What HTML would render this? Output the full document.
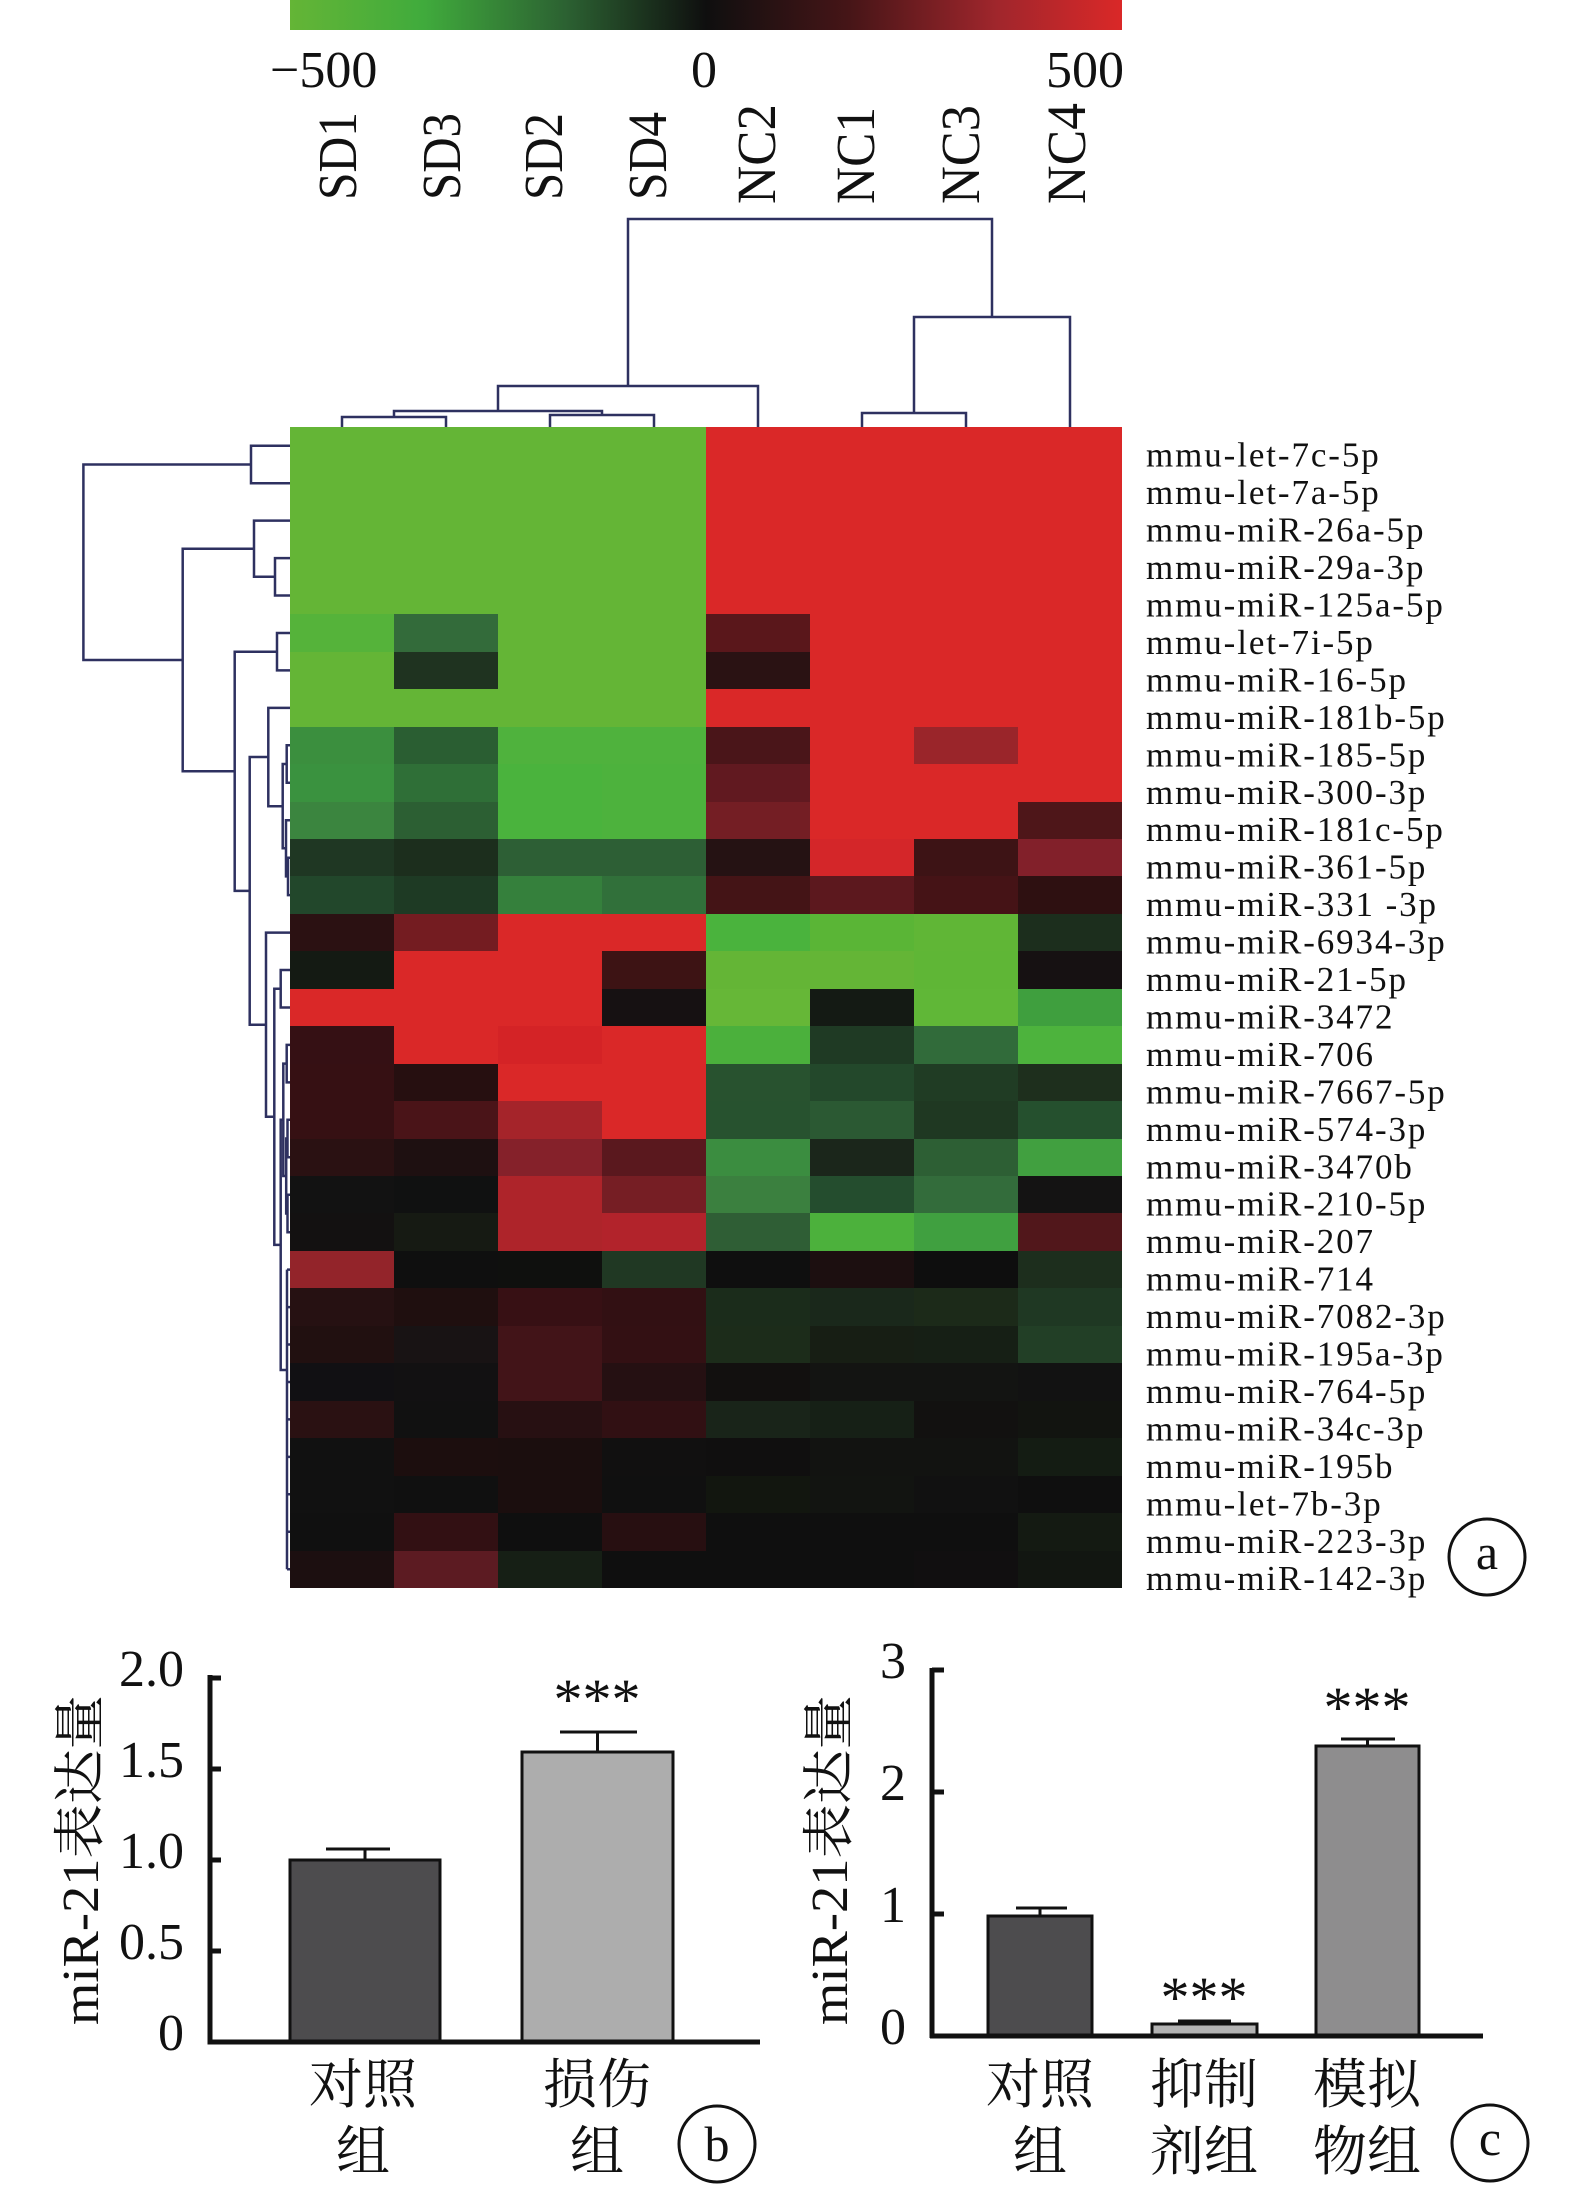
<!DOCTYPE html>
<html><head><meta charset="utf-8">
<style>
html,body{margin:0;padding:0;background:#fff}
body{width:1575px;height:2187px;overflow:hidden;position:relative}
#hm{position:absolute;left:290px;top:427px;width:832px;height:1161px;display:grid;grid-template-columns:repeat(8,104px);grid-template-rows:repeat(31,1fr)}
#hm i{display:block}
#hm .g{background:#64b536}
#hm .r{background:#da2828}
svg{position:absolute;left:0;top:0}
</style></head>
<body>
<div id="hm">
<i class="g"></i><i class="g"></i><i class="g"></i><i class="g"></i><i class="r"></i><i class="r"></i><i class="r"></i><i class="r"></i>
<i class="g"></i><i class="g"></i><i class="g"></i><i class="g"></i><i class="r"></i><i class="r"></i><i class="r"></i><i class="r"></i>
<i class="g"></i><i class="g"></i><i class="g"></i><i class="g"></i><i class="r"></i><i class="r"></i><i class="r"></i><i class="r"></i>
<i class="g"></i><i class="g"></i><i class="g"></i><i class="g"></i><i class="r"></i><i class="r"></i><i class="r"></i><i class="r"></i>
<i class="g"></i><i class="g"></i><i class="g"></i><i class="g"></i><i class="r"></i><i class="r"></i><i class="r"></i><i class="r"></i>
<i style="background:#55b33a"></i><i style="background:#336b3a"></i><i class="g"></i><i class="g"></i><i style="background:#5a171b"></i><i class="r"></i><i class="r"></i><i class="r"></i>
<i class="g"></i><i style="background:#1f3320"></i><i class="g"></i><i class="g"></i><i style="background:#2a1213"></i><i class="r"></i><i class="r"></i><i class="r"></i>
<i class="g"></i><i class="g"></i><i class="g"></i><i class="g"></i><i class="r"></i><i class="r"></i><i class="r"></i><i class="r"></i>
<i style="background:#3b8f3e"></i><i style="background:#2a5e32"></i><i style="background:#4fb23d"></i><i style="background:#4fb23d"></i><i style="background:#4a1519"></i><i class="r"></i><i style="background:#9a252a"></i><i class="r"></i>
<i style="background:#3a923f"></i><i style="background:#2f6f37"></i><i style="background:#4ab33d"></i><i style="background:#4db23d"></i><i style="background:#611920"></i><i class="r"></i><i class="r"></i><i class="r"></i>
<i style="background:#3b853f"></i><i style="background:#2c5f33"></i><i style="background:#4ab33d"></i><i style="background:#4db23d"></i><i style="background:#741e24"></i><i class="r"></i><i class="r"></i><i style="background:#4e1619"></i>
<i style="background:#1f3723"></i><i style="background:#1c2e1d"></i><i style="background:#2d5f35"></i><i style="background:#2d5f35"></i><i style="background:#251213"></i><i style="background:#d42629"></i><i style="background:#3d1315"></i><i style="background:#82202a"></i>
<i style="background:#22472b"></i><i style="background:#1e3a24"></i><i style="background:#35803c"></i><i style="background:#31703a"></i><i style="background:#441416"></i><i style="background:#5c181e"></i><i style="background:#451316"></i><i style="background:#2e1011"></i>
<i style="background:#2b1112"></i><i style="background:#741c21"></i><i class="r"></i><i class="r"></i><i style="background:#4ab33d"></i><i style="background:#5ab536"></i><i style="background:#60b636"></i><i style="background:#1c2e1d"></i>
<i style="background:#141a13"></i><i class="r"></i><i class="r"></i><i style="background:#3d1314"></i><i class="g"></i><i class="g"></i><i style="background:#5fb636"></i><i style="background:#161112"></i>
<i class="r"></i><i class="r"></i><i class="r"></i><i style="background:#161112"></i><i style="background:#66b737"></i><i style="background:#141a14"></i><i style="background:#60b737"></i><i style="background:#3f9f3e"></i>
<i style="background:#351014"></i><i class="r"></i><i style="background:#d42326"></i><i class="r"></i><i style="background:#4bb03c"></i><i style="background:#1f3a24"></i><i style="background:#316b3a"></i><i style="background:#4db33d"></i>
<i style="background:#361013"></i><i style="background:#260f10"></i><i class="r"></i><i class="r"></i><i style="background:#28522f"></i><i style="background:#23482b"></i><i style="background:#203c24"></i><i style="background:#1e2f1d"></i>
<i style="background:#361013"></i><i style="background:#4a1418"></i><i style="background:#a5242a"></i><i class="r"></i><i style="background:#27522f"></i><i style="background:#2b5933"></i><i style="background:#1f3822"></i><i style="background:#25502e"></i>
<i style="background:#2a1112"></i><i style="background:#1e1011"></i><i style="background:#85212a"></i><i style="background:#5a181e"></i><i style="background:#3b8d40"></i><i style="background:#1b261b"></i><i style="background:#2d5f34"></i><i style="background:#41a040"></i>
<i style="background:#121212"></i><i style="background:#101111"></i><i style="background:#ae242a"></i><i style="background:#761e24"></i><i style="background:#3b803f"></i><i style="background:#244d2e"></i><i style="background:#336c3b"></i><i style="background:#141313"></i>
<i style="background:#131111"></i><i style="background:#161a13"></i><i style="background:#ae242a"></i><i style="background:#b2232b"></i><i style="background:#2f5e35"></i><i style="background:#4cb13c"></i><i style="background:#40a040"></i><i style="background:#51171b"></i>
<i style="background:#93242a"></i><i style="background:#0f0f0f"></i><i style="background:#0f100e"></i><i style="background:#203823"></i><i style="background:#0f0f0f"></i><i style="background:#1c0f10"></i><i style="background:#0e0e0e"></i><i style="background:#1d2e1d"></i>
<i style="background:#261112"></i><i style="background:#1f0f0f"></i><i style="background:#371014"></i><i style="background:#321013"></i><i style="background:#1b2c1b"></i><i style="background:#1a281b"></i><i style="background:#1c2a19"></i><i style="background:#1f3823"></i>
<i style="background:#211010"></i><i style="background:#181314"></i><i style="background:#421418"></i><i style="background:#331013"></i><i style="background:#1c2c1a"></i><i style="background:#171e14"></i><i style="background:#161f15"></i><i style="background:#223f26"></i>
<i style="background:#111013"></i><i style="background:#121112"></i><i style="background:#421418"></i><i style="background:#251012"></i><i style="background:#12100f"></i><i style="background:#131412"></i><i style="background:#131412"></i><i style="background:#121212"></i>
<i style="background:#2a1112"></i><i style="background:#111111"></i><i style="background:#271012"></i><i style="background:#311013"></i><i style="background:#192419"></i><i style="background:#162016"></i><i style="background:#121110"></i><i style="background:#121410"></i>
<i style="background:#111111"></i><i style="background:#1c0e0e"></i><i style="background:#1b0e0e"></i><i style="background:#111010"></i><i style="background:#100f0f"></i><i style="background:#121311"></i><i style="background:#121311"></i><i style="background:#141c13"></i>
<i style="background:#111111"></i><i style="background:#101010"></i><i style="background:#1b0e0e"></i><i style="background:#101010"></i><i style="background:#12160f"></i><i style="background:#121411"></i><i style="background:#111111"></i><i style="background:#0f0f0f"></i>
<i style="background:#101010"></i><i style="background:#321013"></i><i style="background:#0f0f0f"></i><i style="background:#270f11"></i><i style="background:#0f0f0f"></i><i style="background:#0f0f0f"></i><i style="background:#0f0f0f"></i><i style="background:#141a12"></i>
<i style="background:#1c0f10"></i><i style="background:#5c1b22"></i><i style="background:#161f15"></i><i style="background:#0f0f0f"></i><i style="background:#0f0f0f"></i><i style="background:#0f0f0f"></i><i style="background:#110f10"></i><i style="background:#121611"></i>
</div>

<svg width="1575" height="2187" viewBox="0 0 1575 2187" xmlns="http://www.w3.org/2000/svg">
<defs>
<linearGradient id="cb" x1="0" y1="0" x2="1" y2="0">
<stop offset="0" stop-color="#64b536"/>
<stop offset="0.16" stop-color="#40ab3c"/>
<stop offset="0.33" stop-color="#2c6232"/>
<stop offset="0.5" stop-color="#0f0f0f"/>
<stop offset="0.67" stop-color="#451517"/>
<stop offset="0.85" stop-color="#a0262c"/>
<stop offset="1" stop-color="#da2828"/>
</linearGradient>
</defs>

<rect x="290" y="0" width="832" height="30" fill="url(#cb)"/>
<g font-family="'Liberation Serif', serif" font-size="52" fill="#111">
<text x="270" y="87">−500</text>
<text x="704" y="87" text-anchor="middle">0</text>
<text x="1124" y="87" text-anchor="end">500</text>
</g>

<g font-family="'Liberation Serif', serif" font-size="55" fill="#111">
<text transform="translate(356,200) rotate(-90)" textLength="88" lengthAdjust="spacingAndGlyphs">SD1</text>
<text transform="translate(460,200) rotate(-90)" textLength="87" lengthAdjust="spacingAndGlyphs">SD3</text>
<text transform="translate(562,200) rotate(-90)" textLength="87" lengthAdjust="spacingAndGlyphs">SD2</text>
<text transform="translate(666,200) rotate(-90)" textLength="88" lengthAdjust="spacingAndGlyphs">SD4</text>
<text transform="translate(775,204) rotate(-90)" textLength="100" lengthAdjust="spacingAndGlyphs">NC2</text>
<text transform="translate(874,204) rotate(-90)" textLength="97" lengthAdjust="spacingAndGlyphs">NC1</text>
<text transform="translate(979,204) rotate(-90)" textLength="99" lengthAdjust="spacingAndGlyphs">NC3</text>
<text transform="translate(1085,204) rotate(-90)" textLength="101" lengthAdjust="spacingAndGlyphs">NC4</text>
</g>

<g fill="none" stroke="#2e3160" stroke-width="2.5">
<path d="M342 427 V417 H446 V427"/>
<path d="M550 427 V415 H654 V427"/>
<path d="M394 417 V411 H602 V415"/>
<path d="M498 411 V386 H758 V427"/>
<path d="M862 427 V413 H966 V427"/>
<path d="M914 413 V317 H1070 V427"/>
<path d="M628 386 V219 H992 V317"/>
</g>

<g fill="none" stroke="#2e3160" stroke-width="2.5">
<path d="M290 445.7 H251 V483.2 H290"/>
<path d="M290 558.1 H275 V595.5 H290"/>
<path d="M290 520.6 H254 V576.8 H275"/>
<path d="M290 633 H277 V670.4 H290"/>
<path d="M290 745.3 H286.7 V782.8 H290"/>
<path d="M290 857.7 H288 V895.1 H290"/>
<path d="M290 820.2 H286 V876.4 H288"/>
<path d="M286.7 764.05 H282.7 V848.3 H286"/>
<path d="M290 707.9 H268.3 V806.2 H282.7"/>
<path d="M290 970 H280.7 V1007.5 H290"/>
<path d="M290 1044.9 H286.7 V1082.4 H290"/>
<path d="M290 1119.8 H287.5 V1157.3 H290"/>
<path d="M290 1194.7 H287.5 V1232.2 H290"/>
<path d="M287.5 1138.55 H286.2 V1213.45 H287.5"/>
<path d="M286.7 1063.65 H283.3 V1176 H286.2"/>
<path d="M287 1269.6 V1569.2"/>
<path d="M287 1269.6 H290 M287 1307.1 H290 M287 1344.5 H290 M287 1382 H290 M287 1419.4 H290 M287 1456.9 H290 M287 1494.3 H290 M287 1531.8 H290 M287 1569.2 H290"/>
<path d="M283.3 1119.8 H280.7 V1370 H287"/>
<path d="M280.7 988.75 H274.3 V1244.9 H280.7"/>
<path d="M290 932.6 H266 V1116.8 H274.3"/>
<path d="M268.3 757.05 H249.7 V1024.7 H266"/>
<path d="M277 651.7 H234.7 V890.9 H249.7"/>
<path d="M254 548.7 H182.7 V771.3 H234.7"/>
<path d="M251 464.45 H83.4 V660 H182.7"/>
</g>

<g font-family="'Liberation Serif', serif" font-size="35" letter-spacing="1.9" fill="#111" transform="translate(0,3)">
<text x="1146" y="463.7">mmu-let-7c-5p</text>
<text x="1146" y="501.2">mmu-let-7a-5p</text>
<text x="1146" y="538.6">mmu-miR-26a-5p</text>
<text x="1146" y="576.1">mmu-miR-29a-3p</text>
<text x="1146" y="613.5">mmu-miR-125a-5p</text>
<text x="1146" y="651">mmu-let-7i-5p</text>
<text x="1146" y="688.4">mmu-miR-16-5p</text>
<text x="1146" y="725.9">mmu-miR-181b-5p</text>
<text x="1146" y="763.3">mmu-miR-185-5p</text>
<text x="1146" y="800.8">mmu-miR-300-3p</text>
<text x="1146" y="838.2">mmu-miR-181c-5p</text>
<text x="1146" y="875.7">mmu-miR-361-5p</text>
<text x="1146" y="913.1">mmu-miR-331 -3p</text>
<text x="1146" y="950.6">mmu-miR-6934-3p</text>
<text x="1146" y="988">mmu-miR-21-5p</text>
<text x="1146" y="1025.5">mmu-miR-3472</text>
<text x="1146" y="1062.9">mmu-miR-706</text>
<text x="1146" y="1100.4">mmu-miR-7667-5p</text>
<text x="1146" y="1137.8">mmu-miR-574-3p</text>
<text x="1146" y="1175.3">mmu-miR-3470b</text>
<text x="1146" y="1212.7">mmu-miR-210-5p</text>
<text x="1146" y="1250.2">mmu-miR-207</text>
<text x="1146" y="1287.6">mmu-miR-714</text>
<text x="1146" y="1325.1">mmu-miR-7082-3p</text>
<text x="1146" y="1362.5">mmu-miR-195a-3p</text>
<text x="1146" y="1400">mmu-miR-764-5p</text>
<text x="1146" y="1437.4">mmu-miR-34c-3p</text>
<text x="1146" y="1474.9">mmu-miR-195b</text>
<text x="1146" y="1512.3">mmu-let-7b-3p</text>
<text x="1146" y="1549.8">mmu-miR-223-3p</text>
<text x="1146" y="1587.2">mmu-miR-142-3p</text>
</g>

<circle cx="1487" cy="1557" r="38" fill="none" stroke="#111" stroke-width="3"/>
<text x="1487" y="1569" text-anchor="middle" font-family="'Liberation Serif', serif" font-size="50" fill="#111">a</text>

<g font-family="'Liberation Serif', serif" font-size="52" fill="#111" text-anchor="end">
<text x="184" y="1686">2.0</text>
<text x="184" y="1777">1.5</text>
<text x="184" y="1868">1.0</text>
<text x="184" y="1959">0.5</text>
<text x="184" y="2050">0</text>
</g>
<text transform="translate(98,2025) rotate(-90)" font-family="'Liberation Serif','Noto Serif CJK SC',serif" font-size="52" fill="#111" textLength="330" lengthAdjust="spacingAndGlyphs">miR-21表达量</text>
<rect x="290" y="1860" width="150" height="182" fill="#4d4c4e" stroke="#111" stroke-width="3"/>
<rect x="522" y="1752" width="151" height="290" fill="#adadad" stroke="#111" stroke-width="3"/>
<g stroke="#111" stroke-width="3" fill="none">
<path d="M365 1860 V1849 M326 1849 H390"/>
<path d="M597.5 1752 V1732 M560 1732 H637"/>
</g>
<g stroke="#111" stroke-width="5" fill="none">
<path d="M210 1675 V2044"/>
<path d="M207.5 2042 H760"/>
<path d="M210 1678 H221 M210 1769 H221 M210 1860 H221 M210 1951 H221"/>
</g>
<text x="597" y="1719" text-anchor="middle" font-family="'Liberation Serif', serif" font-size="58" fill="#111">***</text>
<g font-family="'Noto Serif CJK SC','Liberation Serif',serif" font-size="54" fill="#111" text-anchor="middle">
<text x="363" y="2103">对照</text>
<text x="363" y="2170">组</text>
<text x="597" y="2103">损伤</text>
<text x="597" y="2170">组</text>
</g>
<circle cx="717" cy="2144" r="38" fill="none" stroke="#111" stroke-width="3"/>
<text x="717" y="2161" text-anchor="middle" font-family="'Liberation Serif', serif" font-size="50" fill="#111">b</text>

<g font-family="'Liberation Serif', serif" font-size="52" fill="#111" text-anchor="end">
<text x="906" y="1678">3</text>
<text x="906" y="1800">2</text>
<text x="906" y="1922">1</text>
<text x="906" y="2044">0</text>
</g>
<text transform="translate(847,2025) rotate(-90)" font-family="'Liberation Serif','Noto Serif CJK SC',serif" font-size="52" fill="#111" textLength="330" lengthAdjust="spacingAndGlyphs">miR-21表达量</text>
<rect x="988" y="1916" width="104" height="120" fill="#4d4c4e" stroke="#111" stroke-width="3"/>
<rect x="1152" y="2024" width="105" height="12" fill="#b3b3b3" stroke="#111" stroke-width="3"/>
<rect x="1316" y="1746" width="103" height="290" fill="#8e8d8e" stroke="#111" stroke-width="3"/>
<g stroke="#111" stroke-width="3" fill="none">
<path d="M1040 1916 V1908 M1016 1908 H1067"/>
<path d="M1204.5 2024 V2021 M1178 2021 H1231"/>
<path d="M1367.5 1746 V1739 M1341 1739 H1395"/>
</g>
<g stroke="#111" stroke-width="5" fill="none">
<path d="M932 1668 V2038"/>
<path d="M930 2036 H1483"/>
<path d="M932 1670 H944 M932 1792 H944 M932 1914 H944"/>
</g>
<g font-family="'Liberation Serif', serif" font-size="58" fill="#111" text-anchor="middle">
<text x="1204" y="2017">***</text>
<text x="1367" y="1727">***</text>
</g>
<g font-family="'Noto Serif CJK SC','Liberation Serif',serif" font-size="54" fill="#111" text-anchor="middle">
<text x="1040" y="2103">对照</text>
<text x="1040" y="2170">组</text>
<text x="1204" y="2103">抑制</text>
<text x="1204" y="2170">剂组</text>
<text x="1367" y="2103">模拟</text>
<text x="1367" y="2170">物组</text>
</g>
<circle cx="1490" cy="2143" r="38" fill="none" stroke="#111" stroke-width="3"/>
<text x="1490" y="2155" text-anchor="middle" font-family="'Liberation Serif', serif" font-size="50" fill="#111">c</text>
</svg>
</body></html>
